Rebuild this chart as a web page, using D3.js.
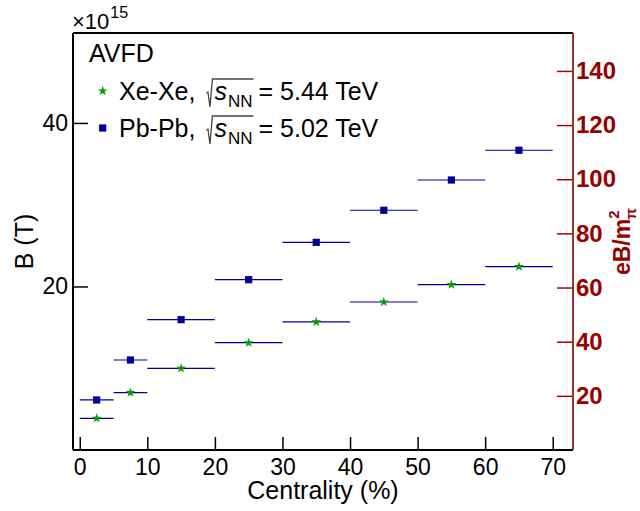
<!DOCTYPE html>
<html>
<head>
<meta charset="utf-8">
<script src="https://cdn.jsdelivr.net/npm/d3@7"></script>
<style>
  html, body { margin: 0; padding: 0; background: #fff; }
  svg { display: block; }
  text { font-family: "Liberation Sans", Arial, Helvetica, sans-serif; }
</style>
</head>
<body>
<svg id="chart" width="640" height="511"></svg>
<script>
// ---- data ----
const binLow  = [0, 5, 10, 20, 30, 40, 50, 60];
const binHigh = [5, 10, 20, 30, 40, 50, 60, 70];
const xeValues = [3.88, 7.01, 9.99, 13.12, 15.66, 18.10, 20.22, 22.42];
const pbValues = [6.12, 11.01, 15.94, 20.83, 25.40, 29.32, 33.02, 36.66];
const xTicks = [0, 10, 20, 30, 40, 50, 60, 70];
const yTicks = [20, 40];
const y2Ticks = [20, 40, 60, 80, 100, 120, 140];

// ---- layout ----
const L = 73, R = 573, T = 33, B = 450;
const svg = d3.select("#chart");
const x = d3.scaleLinear().domain([-1, 73]).range([L, R]);
const y = d3.scaleLinear().domain([0, 51]).range([B, T]);
const y2 = d3.scaleLinear().domain([0, 154]).range([B, T]);

const blue = "#000099", green = "#00a000", red = "#990000";

function drawSeries(vals, color, symbolType, size) {
  const g = svg.append("g");
  g.selectAll("line").data(vals).join("line")
    .attr("x1", (d, i) => x(binLow[i])).attr("x2", (d, i) => x(binHigh[i]))
    .attr("y1", d => y(d)).attr("y2", d => y(d))
    .attr("stroke", blue).attr("stroke-width", 1.2);
  g.selectAll("path").data(vals).join("path")
    .attr("transform", (d, i) => `translate(${x((binLow[i] + binHigh[i]) / 2)},${y(d)})`)
    .attr("d", d3.symbol().type(symbolType).size(size))
    .attr("fill", color);
}
drawSeries(pbValues, blue, d3.symbolSquare, 52);
drawSeries(xeValues, green, d3.symbolStar, 30);

const tickFont = 23;
svg.append("g").attr("transform", `translate(0,${B})`)
  .call(d3.axisBottom(x).tickValues(xTicks).tickSize(-13).tickPadding(9).tickSizeOuter(0))
  .call(g => g.select(".domain").remove())
  .call(g => g.selectAll("line").attr("stroke", "#000").attr("stroke-width", 1.5))
  .call(g => g.selectAll("text").attr("font-size", tickFont).attr("fill", "#000")
    .attr("font-family", "Liberation Sans, Arial, sans-serif"));
svg.append("g").attr("transform", `translate(${L},0)`)
  .call(d3.axisLeft(y).tickValues(yTicks).tickSize(-15).tickPadding(5).tickSizeOuter(0))
  .call(g => g.select(".domain").remove())
  .call(g => g.selectAll("line").attr("stroke", "#000").attr("stroke-width", 1.5))
  .call(g => g.selectAll("text").attr("font-size", tickFont).attr("fill", "#000")
    .attr("font-family", "Liberation Sans, Arial, sans-serif"));
svg.append("g").attr("transform", `translate(${R},0)`)
  .call(d3.axisRight(y2).tickValues(y2Ticks).tickSize(-16).tickPadding(3).tickSizeOuter(0))
  .call(g => g.select(".domain").remove())
  .call(g => g.selectAll("line").attr("stroke", "#aa0000").attr("stroke-width", 1.5))
  .call(g => g.selectAll("text").attr("font-size", 24).attr("font-weight", "bold").attr("fill", red)
    .attr("font-family", "Liberation Sans, Arial, sans-serif"));

// frame
svg.append("line").attr("x1", L).attr("x2", R).attr("y1", T).attr("y2", T).attr("stroke", "#000").attr("stroke-width", 2);
svg.append("line").attr("x1", L).attr("x2", R).attr("y1", B).attr("y2", B).attr("stroke", "#000").attr("stroke-width", 2);
svg.append("line").attr("x1", L).attr("x2", L).attr("y1", T).attr("y2", B).attr("stroke", "#000").attr("stroke-width", 2);
svg.append("line").attr("x1", R).attr("x2", R).attr("y1", T).attr("y2", B).attr("stroke", "#993333").attr("stroke-width", 2);

// axis titles
svg.append("text").attr("x", (L + R) / 2).attr("y", 499).attr("text-anchor", "middle")
  .attr("font-size", 25).text("Centrality (%)");
svg.append("text").attr("transform", `translate(33,${(T + B) / 2}) rotate(-90)`)
  .attr("text-anchor", "middle").attr("font-size", 25).text("B (T)");
const rt = svg.append("text").attr("transform", `translate(630,${(T + B) / 2}) rotate(-90)`)
  .attr("text-anchor", "middle").attr("font-size", 23).attr("font-weight", "bold").attr("fill", red);
rt.append("tspan").text("eB/m");
rt.append("tspan").attr("font-size", 15).attr("dy", -11).text("2");
rt.append("tspan").attr("font-size", 15).attr("dx", -9).attr("dy", 17).text("π");

// exponent
const ex = svg.append("text").attr("x", 72).attr("y", 29).attr("font-size", 22);
ex.append("tspan").text("×10");
ex.append("tspan").attr("font-size", 16).attr("dy", -11).attr("dx", 1).text("15");

// legend
svg.append("text").attr("x", 89).attr("y", 62).attr("font-size", 25).text("AVFD");
function legendLine(yb, label, energy) {
  const fs = 25;
  let cx = 119;
  const t1 = svg.append("text").attr("x", cx).attr("y", yb).attr("font-size", fs).text(label + ",");
  cx += t1.node().getComputedTextLength();
  const rx = cx + 11;           // radical start
  const top = yb - 21, bot = yb + 7;
  const sx = rx + 8;
  const ts = svg.append("text").attr("x", sx).attr("y", yb).attr("font-size", fs).attr("font-style", "italic").text("s");
  let nx = sx + ts.node().getComputedTextLength() + 1;
  const tn = svg.append("text").attr("x", nx).attr("y", yb + 7).attr("font-size", 17).text("NN");
  const ex2 = nx + tn.node().getComputedTextLength();
  svg.append("path")
    .attr("d", `M${rx},${yb - 7} L${rx + 1.5},${yb - 8} L${rx + 3.5},${bot} L${rx + 6},${top} L${ex2 + 1},${top}`)
    .attr("fill", "none").attr("stroke", "#444").attr("stroke-width", 1.3);
  svg.append("text").attr("x", ex2 + 6).attr("y", yb).attr("font-size", fs).text("= " + energy + " TeV");
}
legendLine(100, "Xe-Xe", "5.44");
legendLine(137, "Pb-Pb", "5.02");
svg.append("path").attr("transform", "translate(102.7,91)")
  .attr("d", d3.symbol().type(d3.symbolStar).size(30)).attr("fill", green);
svg.append("path").attr("transform", "translate(102.7,128)")
  .attr("d", d3.symbol().type(d3.symbolSquare).size(52)).attr("fill", blue);
</script>
</body>
</html>
